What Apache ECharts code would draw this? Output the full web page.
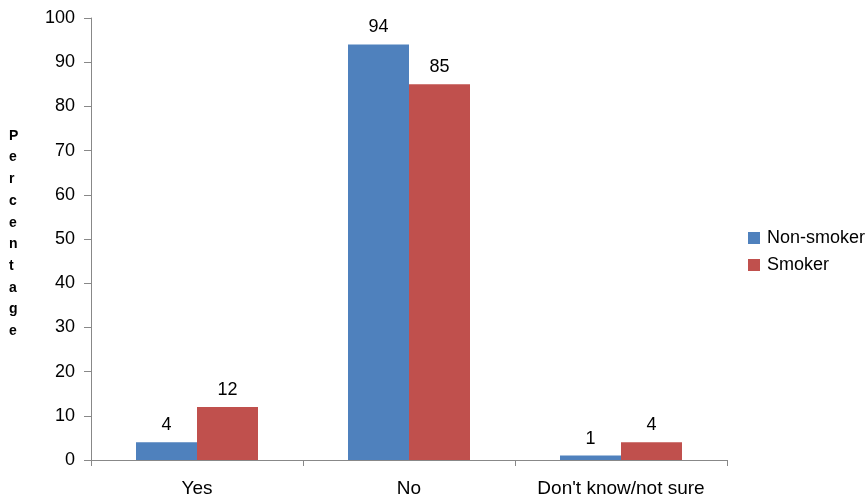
<!DOCTYPE html>
<html><head><meta charset="utf-8">
<script src="https://cdn.jsdelivr.net/npm/echarts@6/dist/echarts.min.js"></script>
<style>html,body{margin:0;padding:0;background:#fff}#c{width:868px;height:502px}</style>
</head><body><div id="c"></div>
<script>
const categories = ["Yes", "No", "Don't know/not sure"];
const nonSmoker = [4, 94, 1];
const smoker = [12, 85, 4];
const yTicks = [0, 10, 20, 30, 40, 50, 60, 70, 80, 90, 100];
const axisTitle = "Percentage";

const chart = echarts.init(document.getElementById('c'));
const font = 'Liberation Sans, Arial, sans-serif';
chart.setOption({
  animation: false,
  textStyle: {fontFamily: font},
  grid: {left: 91, right: 141, top: 18, bottom: 42},
  legend: {
    orient: 'vertical', left: 748, top: 229, itemGap: 9, padding: 0,
    itemWidth: 12, itemHeight: 12, icon: 'rect',
    textStyle: {fontSize: 18, color: '#000', fontFamily: font, padding: [0,0,0,2]},
    data: ['Non-smoker', 'Smoker']
  },
  graphic: [{
    type: 'text', left: 9, top: 125,
    style: {text: axisTitle.split('').join('\n'), font: 'bold 14px ' + font, lineHeight: 21.7, fill: '#000', align: 'center'}
  }],
  xAxis: {
    type: 'category', data: categories,
    axisLine: {lineStyle: {color: '#888'}},
    axisTick: {show: true, length: 6, lineStyle: {color: '#888'}},
    axisLabel: {fontSize: 19, color: '#000', margin: 19, interval: 0, hideOverlap: false, fontFamily: font}
  },
  yAxis: {
    type: 'value', min: yTicks[0], max: yTicks[yTicks.length-1], interval: 10,
    axisLine: {show: true, lineStyle: {color: '#888'}},
    axisTick: {show: true, length: 7, lineStyle: {color: '#888'}},
    splitLine: {show: false},
    axisLabel: {fontSize: 18, color: '#000', margin: 16, fontFamily: font}
  },
  series: [
    {name: 'Non-smoker', type: 'bar', data: nonSmoker, barWidth: 61, barGap: '0%',
     itemStyle: {color: '#4F81BD'},
     label: {show: true, position: 'top', fontSize: 18, color: '#000', distance: 8, fontFamily: font}},
    {name: 'Smoker', type: 'bar', data: smoker, barWidth: 61,
     itemStyle: {color: '#C0504D'},
     label: {show: true, position: 'top', fontSize: 18, color: '#000', distance: 8, fontFamily: font}}
  ]
});
</script></body></html>
